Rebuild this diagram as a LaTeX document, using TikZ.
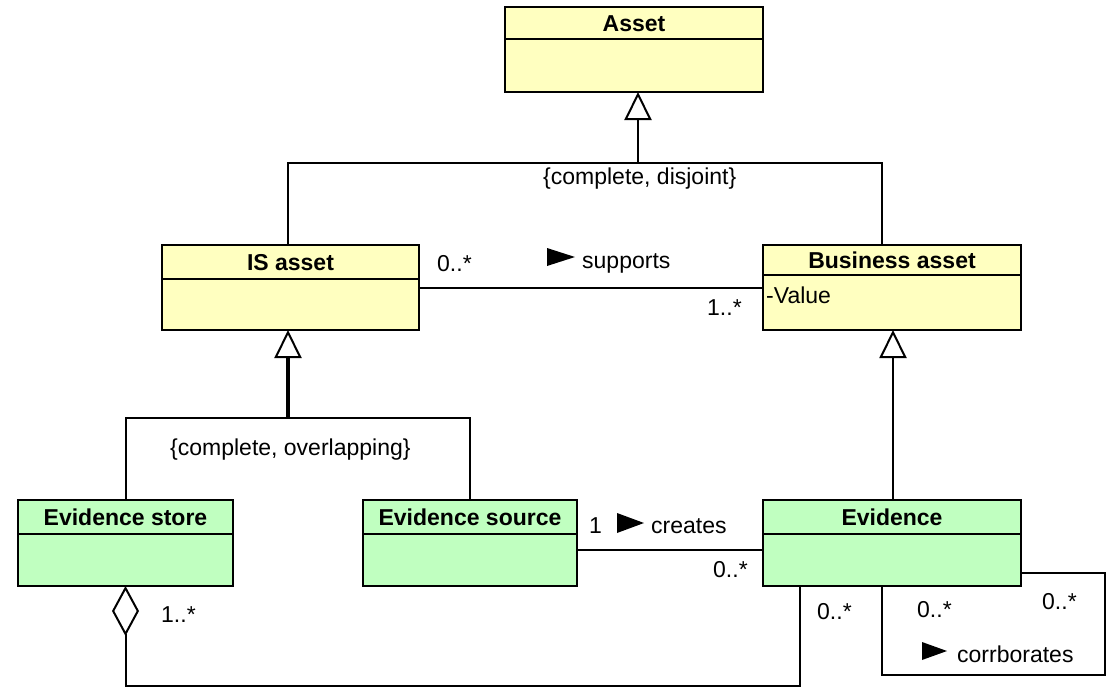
\documentclass[tikz,border=0pt]{standalone}
\usepackage{fontspec}
\setmainfont{Liberation Sans}
\usetikzlibrary{arrows.meta,calc}

\definecolor{clsyellow}{RGB}{255,255,192}
\definecolor{clsgreen}{RGB}{192,255,192}

\tikzset{
  umlbox/.style={draw=black, line width=2pt, inner sep=0pt, outer sep=0pt, anchor=north west},
  umltitle/.style={font=\fontsize{23}{27}\selectfont\bfseries, inner sep=0pt, anchor=base},
  lbl/.style={font=\fontsize{23}{27}\selectfont, inner sep=0pt, anchor=base west},
  conn/.style={line width=2pt},
  gen/.style={conn, -{Triangle[open, length=28pt, width=27pt, line width=2pt]}},
  agg/.style={conn, {Diamond[open, length=50pt, width=27pt, line width=2pt]}-},
  readdir/.style={fill=black},
}

% class box: name, fill, left x, top y, width, height, divider y, title
\newcommand\umlclass[8]{%
  \node[umlbox, fill=#2, minimum width=#5pt, minimum height=#6pt] (#1) at (#3,#4) {};
  \draw[line width=2pt] (#3,#7) -- ++(#5,0);
  \node[umltitle] (#1-title) at ({#3+#5/2},{(#4+#7)/2+8.25}) {#8};
}

\begin{document}
\begin{tikzpicture}[x=1pt, y=-1pt]
  \useasboundingbox (0,0) rectangle (1112,688);

  % classes
  \umlclass{asset}{clsyellow}{505}{7}{258}{85}{39}{Asset}
  \umlclass{isasset}{clsyellow}{162}{245}{257}{85}{279}{IS asset}
  \umlclass{bizasset}{clsyellow}{763}{245}{258}{85}{275}{Business asset}
  \umlclass{estore}{clsgreen}{18}{500}{215}{86}{534}{Evidence store}
  \umlclass{esource}{clsgreen}{363}{500}{214}{86}{534}{Evidence source}
  \umlclass{evidence}{clsgreen}{763}{500}{258}{86}{534}{Evidence}
  \node[lbl] (value) at (766,303) {-Value};

  % generalization of Asset
  \coordinate (j1) at (638,163);
  \coordinate (j1l) at (288,163);
  \coordinate (j1r) at (882,163);
  \draw[conn] (isasset.north -| j1l) -- (j1l) -- (j1r) -- (bizasset.north -| j1r);
  \draw[gen] (j1) -- (asset.south -| j1);
  \node[lbl] (disj) at (543,184) {\{complete, disjoint\}};

  % generalization of IS asset
  \coordinate (j2) at (288,418);
  \draw[conn] (estore.north) |- (j2) -| (esource.north);
  \draw[gen, line width=3.5pt] (j2) -- (isasset.south -| j2);
  \node[lbl] (overl) at (170,455) {\{complete, overlapping\}};

  % Evidence is a Business asset
  \coordinate (j3) at (893,500);
  \draw[gen] (evidence.north -| j3) -- (bizasset.south -| j3);

  % supports
  \draw[conn] (isasset.east) -- (bizasset.west);
  \node[lbl] (m1) at (437,271) {0..*};
  \fill[readdir] (547,248) -- (547,266) -- (575,257) -- cycle;
  \node[lbl] (sup) at (582,268) {supports};
  \node[lbl] (m2) at (707,315) {1..*};

  % creates
  \coordinate (c1) at (0,550);
  \draw[conn] (esource.east |- c1) -- (evidence.west |- c1);
  \node[lbl] (m3) at (589,533) {1};
  \fill[readdir] (617,513) -- (617,533) -- (644,523) -- cycle;
  \node[lbl] (cre) at (651,533) {creates};
  \node[lbl] (m4) at (713,577) {0..*};

  % aggregation of Evidence in Evidence store
  \coordinate (k1) at (800,686);
  \draw[agg] (estore.south) |- (k1) -- (evidence.south -| k1);
  \node[lbl] (m5) at (161,622) {1..*};
  \node[lbl] (m6) at (817,619) {0..*};

  % corroborates (self association)
  \coordinate (s1) at (882,675);
  \coordinate (s2) at (1105,573);
  \draw[conn] (evidence.south -| s1) -- (s1) -| (s2) -- (evidence.east |- s2);
  \node[lbl] (m7) at (917,617) {0..*};
  \node[lbl] (m8) at (1042,609) {0..*};
  \fill[readdir] (922,642) -- (922,660) -- (947,651) -- cycle;
  \node[lbl] (cor) at (957,662) {corrborates};
\end{tikzpicture}
\end{document}
